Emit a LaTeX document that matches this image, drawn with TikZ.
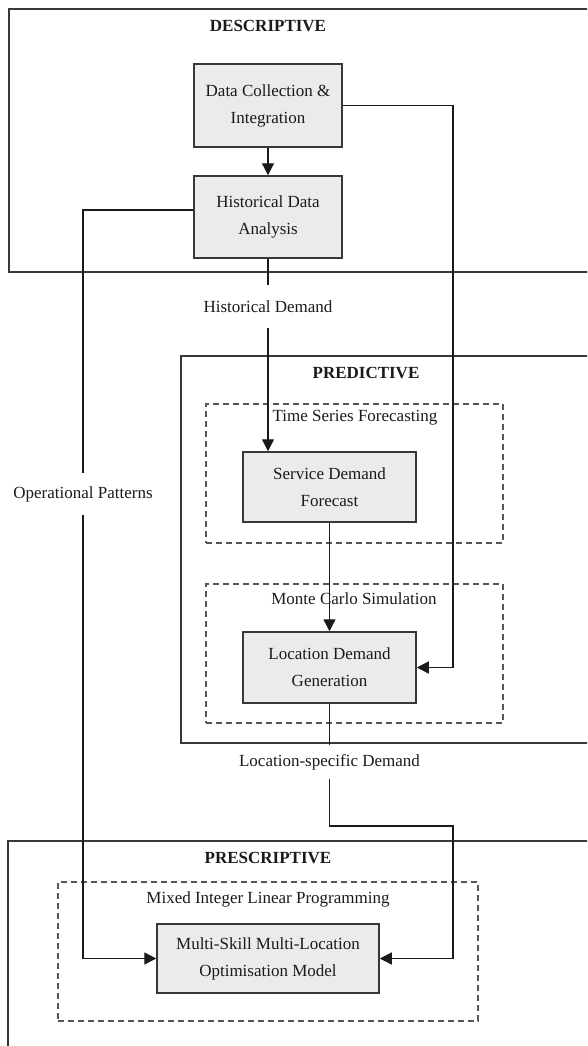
\documentclass[tikz,border=0pt]{standalone}
\usepackage{fontspec}
\setmainfont{Liberation Serif}
\usetikzlibrary{arrows.meta}
\definecolor{boxfill}{HTML}{EBEBEB}
\definecolor{edge}{HTML}{383838}
\definecolor{ink}{HTML}{1A1A1A}
\tikzset{
  every node/.style={text=ink, font=\fontsize{17}{27}\selectfont},
  procbox/.style={draw=edge, line width=1.5pt, fill=boxfill, align=center, inner sep=0pt},
  groupbox/.style={draw=edge, line width=1.5pt, inner sep=0pt},
  dashbox/.style={draw=edge!85, line width=1.4pt, dash pattern=on 6pt off 4pt, inner sep=0pt},
  title/.style={font=\fontsize{17}{27}\selectfont\bfseries},
  lab/.style={inner sep=0pt},
  conn/.style={draw=ink, line width=1.3pt},
  arr/.style={conn, -{Triangle[length=12pt,width=12pt]}},
}
\begin{document}
\begin{tikzpicture}[x=1pt,y=-1pt]
\useasboundingbox (0,0) rectangle (587,1046);
\clip (0,0) rectangle (587,1046);
% group frames
\node[groupbox, minimum width=591pt, minimum height=263pt] (desc) at (304.5,140.5) {};
\node[groupbox, minimum width=419pt, minimum height=387pt] (pred) at (390.5,549.5) {};
\node[groupbox, minimum width=592pt, minimum height=230pt] (presc) at (304,956) {};
\node[title] (desct) at (268,26) {DESCRIPTIVE};
\node[title] (predt) at (366,373) {PREDICTIVE};
\node[title] (presct) at (268,858) {PRESCRIPTIVE};
% dashed method frames
\node[dashbox, minimum width=297pt, minimum height=139pt] (tsf) at (354.5,473.5) {};
\node[lab] (tsft) at (355,418) {Time Series Forecasting};
\node[dashbox, minimum width=297pt, minimum height=139pt] (mcs) at (354.5,653.5) {};
\node[lab] (mcst) at (354,599) {Monte Carlo Simulation};
\node[dashbox, minimum width=420pt, minimum height=139pt] (milp) at (268,951.5) {};
\node[lab] (milpt) at (268,899) {Mixed Integer Linear Programming};
% process boxes
\node[procbox, minimum width=148pt, minimum height=83pt] (dc) at (268,105.5) {Data Collection \&\\Integration};
\node[procbox, minimum width=148pt, minimum height=82pt] (hd) at (268,217) {Historical Data\\Analysis};
\node[procbox, minimum width=173pt, minimum height=70pt] (sdf) at (329.5,487) {Service Demand\\Forecast};
\node[procbox, minimum width=173pt, minimum height=71pt] (ldg) at (329.5,667.5) {Location Demand\\Generation};
\node[procbox, minimum width=222pt, minimum height=69pt] (ms) at (268,958.5) {Multi-Skill Multi-Location\\Optimisation Model};
% connector labels
\node[lab, minimum height=43pt] (hdl) at (268,306.5) {Historical Demand};
\node[lab, minimum height=42pt] (opl) at (83,494) {Operational Patterns};
\node[lab, minimum height=34pt] (lsl) at (329.5,762) {Location-specific Demand};
% helper coordinates
\coordinate (rc) at (453,667.5);
\coordinate (lc) at (83,210);
\coordinate (k1) at (329.5,826);
\coordinate (k2) at (453,958.5);
% connectors
\draw[arr] (dc.south) -- (hd.north);
\draw[arr] (dc.east) -| (rc) -- (ldg.east);
\draw[conn] ([yshift=7pt]hd.west) -- (lc) -- (opl.north);
\draw[arr] (opl.south) |- (ms.west);
\draw[conn] (hd.south) -- (hdl.north);
\draw[arr] (hdl.south) -- (hdl.south |- sdf.north);
\draw[arr] (sdf.south) -- (ldg.north);
\draw[conn] (ldg.south) -- (lsl.north);
\draw[arr] (lsl.south) -- (k1) -| (k2) -- (ms.east);
\end{tikzpicture}
\end{document}
